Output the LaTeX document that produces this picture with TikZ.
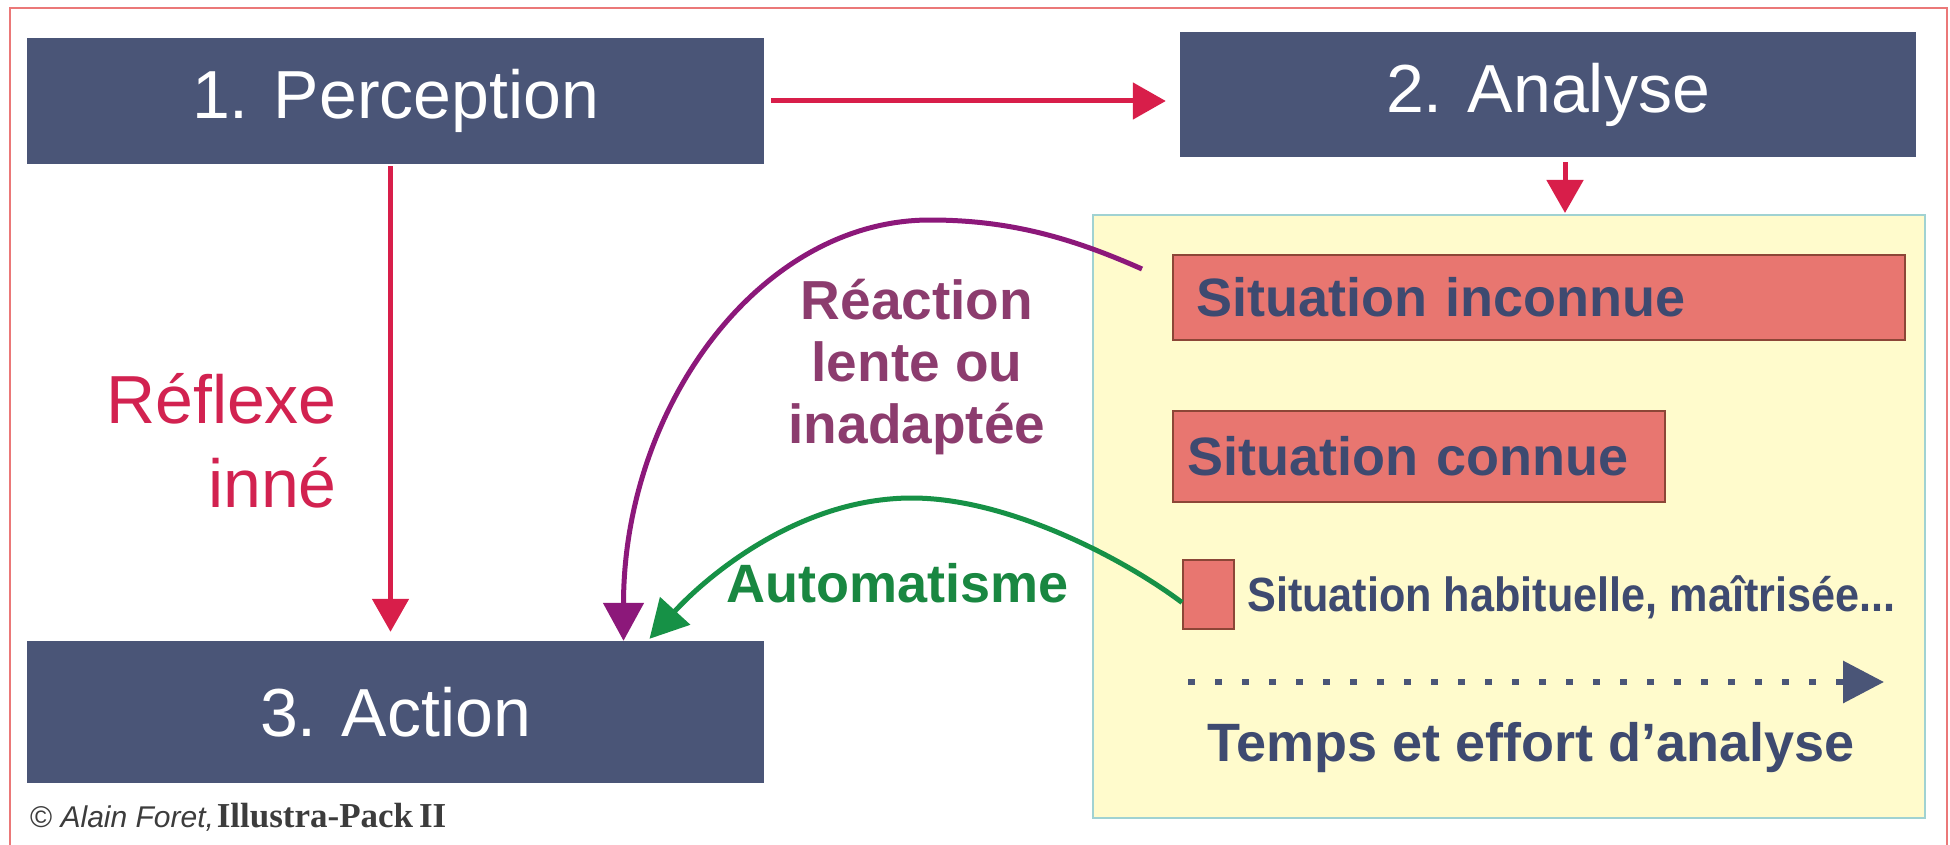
\documentclass[tikz,border=0pt]{standalone}
\usepackage{fontspec}
\setmainfont{Liberation Sans}
\newfontfamily\serifbf{Liberation Serif}
\newfontfamily\narrowbf[FakeStretch=0.9]{Liberation Sans}
\usetikzlibrary{arrows.meta,calc}
\definecolor{navy}{RGB}{74,85,119}
\definecolor{navytext}{RGB}{62,74,112}
\definecolor{crimson}{RGB}{216,30,74}
\definecolor{crimsontext}{RGB}{210,34,80}
\definecolor{purplearr}{RGB}{140,24,122}
\definecolor{purpletext}{RGB}{140,60,110}
\definecolor{greenarr}{RGB}{22,145,70}
\definecolor{greentext}{RGB}{25,135,65}
\definecolor{panelfill}{RGB}{255,251,204}
\definecolor{paneledge}{RGB}{160,210,210}
\definecolor{salmon}{RGB}{232,118,112}
\definecolor{salmonedge}{RGB}{140,70,55}
\definecolor{framecol}{RGB}{235,120,120}
\definecolor{footgray}{RGB}{60,60,60}
\begin{document}
\begin{tikzpicture}[x=1pt,y=-1pt,
  bigbox/.style={fill=navy, text=white, inner sep=0pt, font=\fontsize{68}{80}\selectfont},
  situbox/.style={fill=salmon, draw=salmonedge, line width=2pt, inner ysep=0pt, align=left,
     text=navytext, font=\bfseries\fontsize{54}{60}\selectfont},
  redarrow/.style={draw=crimson, line width=5pt, -{Triangle[length=33pt,width=36pt]}},
  curvearrow/.style={line width=5pt, -{Triangle[length=38pt,width=40pt]}},
]
\useasboundingbox (0,0) rectangle (1950,845);
\fill[white] (0,0) rectangle (1950,845);
\draw[framecol, line width=2pt] (10,850) -- (10,8) -- (1947,8) -- (1947,850);

% main boxes
\node[bigbox, minimum width=737pt, minimum height=126pt] (perc) at (395.5,101) {1. Perception};
\node[bigbox, minimum width=736pt, minimum height=125pt] (anal) at (1548,94.5) {2. Analyse};
\node[bigbox, minimum width=737pt, minimum height=142pt] (act) at (395.5,712) {3. Action};

% panel
\node[fill=panelfill, draw=paneledge, line width=2pt, minimum width=832pt, minimum height=603pt, inner sep=0pt] (panel) at (1509,516.5) {};
\node[situbox, inner xsep=23pt, text width=686pt, minimum height=85pt] (sinc) at (1539,297.5) {Situation inconnue};
\node[situbox, inner xsep=14pt, text width=464pt, minimum height=91pt] (scon) at (1419,456.5) {Situation connue};
\node[fill=salmon, draw=salmonedge, line width=2pt, minimum width=51pt, minimum height=69pt, inner sep=0pt] (shab) at (1208.5,594.5) {};
\node[anchor=base west, inner sep=0pt, text=navytext, font=\narrowbf\bfseries\fontsize{48}{56}\selectfont] (habtext) at (1247,611) {Situation habituelle, maîtrisée...};
\coordinate (dstart) at (1188,682);
\coordinate (dend) at (1884,682);
\draw[navy, line width=6.5pt, dash pattern=on 6.5pt off 20.5pt, -{Triangle[length=41pt,width=41pt]}] (dstart) -- (dend);
\node[anchor=base, inner sep=0pt, text=navytext, font=\bfseries\fontsize{54}{60}\selectfont] (temps) at (1531,761) {Temps et effort d’analyse};

% red arrows
\draw[redarrow, shorten <=7pt, shorten >=14pt] (perc.east) -- (perc.east -| anal.west);
\draw[redarrow, shorten <=2pt, shorten >=9pt] ([xshift=-5pt]perc.south) -- ([xshift=-5pt]perc.south |- act.north);
\draw[redarrow, shorten <=5pt, shorten >=1pt] ([xshift=17pt]anal.south) -- ([xshift=17pt]anal.south |- panel.north);

\node[anchor=base east, inner sep=0pt, align=right, text=crimsontext, font=\fontsize{68}{84}\selectfont] (reflexe) at (337,507) {Réflexe\\inné};

% purple curve
\coordinate (pstart) at ($(sinc.west)+(-30,-28.5)$);
\coordinate (ptop) at (930,220);
\coordinate (pend) at ($(act.north)+(228,0)$);
\draw[curvearrow, draw=purplearr, fill=none] (pstart) .. controls +(-70,-31) and +(80,0) .. (ptop)
   .. controls +(-170,0) and +(0,-234) .. (pend);
\node[align=center, inner sep=0pt, text=purpletext, font=\bfseries\fontsize{55}{62}\selectfont, anchor=base] (reac) at (917,443) {Réaction\\lente ou\\inadaptée};

% green curve
\coordinate (gstart) at ($(shab.west)+(0,8)$);
\coordinate (gtop) at (912,498);
\coordinate (gend) at ($(act.north)+(254,-2)$);
\draw[curvearrow, draw=greenarr] (gstart) .. controls +(-60,-45) and +(95,0) .. (gtop)
   .. controls +(-115,0) and +(55,-60) .. (gend);
\node[anchor=base, inner sep=0pt, text=greentext, font=\bfseries\fontsize{54}{60}\selectfont] (auto) at (898,602) {Automatisme};

% footer
\node[anchor=base west, inner sep=0pt, text=footgray] (copy) at (30,827) {{\fontsize{30}{36}\selectfont ©\itshape\ Alain Foret,}\ {\serifbf\bfseries\fontsize{35}{40}\selectfont Illustra-Pack\,II}};
\end{tikzpicture}
\end{document}
